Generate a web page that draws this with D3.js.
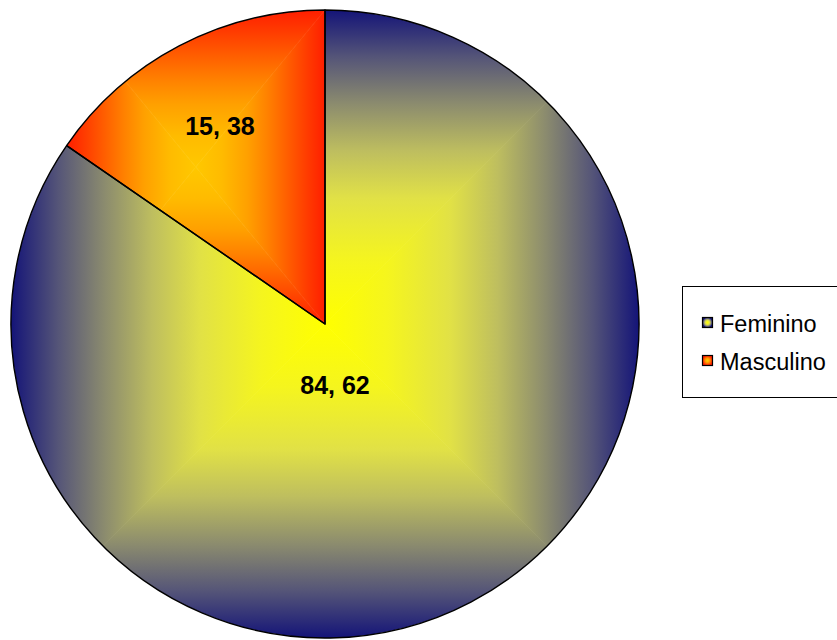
<!DOCTYPE html>
<html>
<head>
<meta charset="utf-8">
<script src="https://cdn.jsdelivr.net/npm/d3@7/dist/d3.min.js"></script>
<style>
  html, body { margin: 0; padding: 0; background: #ffffff; }
  svg { display: block; }
</style>
</head>
<body>
<svg id="chart" width="837" height="640"></svg>
<script>
// Distribution by sex (percent)
const categories = ["Feminino", "Masculino"];
const values = [84.62, 15.38];
const valueLabels = ["84, 62", "15, 38"];

// Gradient ramps per slice, from the centre (t = 0) to the rim (t = 1)
const rampStops = [0, 0.2, 0.4, 0.55, 0.7, 0.85, 1];
const femininoRamp = ["#ffff00", "#f5f51e", "#e1e146", "#bebe5f", "#8c8c6e", "#555578", "#141478"];
const masculinoRamp = ["#ffc800", "#ffbb00", "#ffa000", "#ff8200", "#ff6000", "#ff3e00", "#ff1e00"];
const ramps = [femininoRamp, masculinoRamp];

const W = 837, H = 640;
const cx = 325, cy = 324, R = 314;

const svg = d3.select("#chart");
const defs = svg.append("defs");

const pie = d3.pie().sort(null).value(d => d)
  .startAngle(0).endAngle(2 * Math.PI);
const arcs = pie(values);
const arcGen = d3.arc().innerRadius(0).outerRadius(R);

// Rectangular "from centre" gradient: four triangles around the centre of a box,
// each filled with a linear gradient running from its outer edge to the centre.
function rectGradient(g, id, box, ramp) {
  const [x0, y0, x1, y1] = box;
  const mx = (x0 + x1) / 2, my = (y0 + y1) / 2;
  const sides = [
    { pts: [[x0, y0], [x1, y0], [mx, my]], from: [mx, y0], to: [mx, my] },
    { pts: [[x1, y0], [x1, y1], [mx, my]], from: [x1, my], to: [mx, my] },
    { pts: [[x1, y1], [x0, y1], [mx, my]], from: [mx, y1], to: [mx, my] },
    { pts: [[x0, y1], [x0, y0], [mx, my]], from: [x0, my], to: [mx, my] }
  ];
  sides.forEach((s, i) => {
    const gid = `${id}-${i}`;
    const lg = defs.append("linearGradient").attr("id", gid)
      .attr("gradientUnits", "userSpaceOnUse")
      .attr("x1", s.from[0]).attr("y1", s.from[1])
      .attr("x2", s.to[0]).attr("y2", s.to[1]);
    rampStops.slice().reverse().forEach((t, k) => {
      lg.append("stop").attr("offset", 1 - t)
        .attr("stop-color", ramp[rampStops.length - 1 - k]);
    });
    g.append("path")
      .attr("d", d3.line()(s.pts) + "Z")
      .attr("fill", `url(#${gid})`)
      .attr("stroke", `url(#${gid})`)
      .attr("stroke-width", 0.6);
  });
}

const pieG = svg.append("g");

arcs.forEach((a, i) => {
  const path = arcGen(a);
  const clipId = `clip-${i}`;
  defs.append("clipPath").attr("id", clipId)
    .append("path").attr("d", path).attr("transform", `translate(${cx},${cy})`);

  // Bounding box of the slice in page coordinates
  const tmp = pieG.append("path").attr("d", path).attr("transform", `translate(${cx},${cy})`);
  const bb = tmp.node().getBBox();
  tmp.remove();
  const box = [bb.x + cx, bb.y + cy, bb.x + cx + bb.width, bb.y + cy + bb.height];

  const g = pieG.append("g").attr("clip-path", `url(#${clipId})`);
  rectGradient(g, `grad-${i}`, box, ramps[i]);
});

// Slice outlines
pieG.selectAll("path.outline")
  .data(arcs)
  .join("path")
  .attr("class", "outline")
  .attr("transform", `translate(${cx},${cy})`)
  .attr("d", arcGen)
  .attr("fill", "none")
  .attr("stroke", "#000")
  .attr("stroke-width", 1.4)
  .attr("stroke-linejoin", "round");

// Value labels
const labelPos = [
  (a) => [cx + 10, cy + 70],
  (a) => {
    const c = d3.arc().innerRadius(R * 0.72).outerRadius(R * 0.72).centroid(a);
    return [cx + c[0], cy + c[1] + 11];
  }
];
arcs.forEach((a, i) => {
  const [lx, ly] = labelPos[i](a);
  svg.append("text")
    .attr("x", lx).attr("y", ly)
    .attr("text-anchor", "middle")
    .attr("font-family", "Liberation Sans, Arial, sans-serif")
    .attr("font-weight", "bold")
    .attr("font-size", 25)
    .attr("fill", "#000")
    .text(valueLabels[i]);
});

// Legend
const legend = svg.append("g");
legend.append("rect")
  .attr("x", 682.5).attr("y", 286.5)
  .attr("width", 170).attr("height", 111)
  .attr("fill", "#fff").attr("stroke", "#000").attr("stroke-width", 1);

categories.forEach((c, i) => {
  const y = 317 + i * 38;
  const sid = `leg-${i}`;
  const rg = defs.append("radialGradient").attr("id", sid);
  rampStops.forEach((t, k) => {
    rg.append("stop").attr("offset", t).attr("stop-color", ramps[i][k]);
  });
  legend.append("rect")
    .attr("x", 702.5).attr("y", y + 0.5)
    .attr("width", 10).attr("height", 10)
    .attr("fill", `url(#${sid})`)
    .attr("stroke", "#000").attr("stroke-width", 1.2);
  legend.append("text")
    .attr("x", 720).attr("y", y + 15)
    .attr("font-family", "Liberation Sans, Arial, sans-serif")
    .attr("font-size", 23.5)
    .attr("fill", "#000")
    .text(c);
});
</script>
</body>
</html>
